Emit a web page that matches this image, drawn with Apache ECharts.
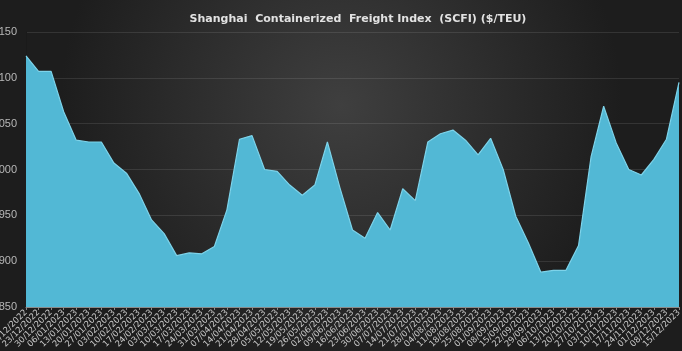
<!DOCTYPE html>
<html>
<head>
<meta charset="utf-8">
<script src="https://cdn.jsdelivr.net/npm/echarts@6/dist/echarts.min.js"></script>
<style>
  html, body { margin: 0; padding: 0; background: #222; }
  #chart { width: 682px; height: 351px; }
</style>
</head>
<body>
<div id="chart"></div>
<script>
// weekly SCFI readings, 16/12/2022 .. 15/12/2023
const dates = [
  '16/12/2022', '23/12/2022', '30/12/2022', '06/01/2023', '13/01/2023', '20/01/2023', '27/01/2023',
  '03/02/2023', '10/02/2023', '17/02/2023', '24/02/2023', '03/03/2023', '10/03/2023', '17/03/2023',
  '24/03/2023', '31/03/2023', '07/04/2023', '14/04/2023', '21/04/2023', '28/04/2023', '05/05/2023',
  '12/05/2023', '19/05/2023', '26/05/2023', '02/06/2023', '09/06/2023', '16/06/2023', '23/06/2023',
  '30/06/2023', '07/07/2023', '14/07/2023', '21/07/2023', '28/07/2023', '04/08/2023', '11/08/2023',
  '18/08/2023', '25/08/2023', '01/09/2023', '08/09/2023', '15/09/2023', '22/09/2023', '29/09/2023',
  '06/10/2023', '13/10/2023', '20/10/2023', '27/10/2023', '03/11/2023', '10/11/2023', '17/11/2023',
  '24/11/2023', '01/12/2023', '08/12/2023', '15/12/2023'
]
const scfi = [
  1124, 1107, 1107, 1063, 1032, 1030, 1030,
  1007, 996, 974, 945, 930, 906, 909,
  908, 916, 956, 1033, 1037, 1000, 998,
  983, 972, 983, 1030, 980, 934, 925,
  953, 934, 979, 966, 1030, 1039, 1043,
  1032, 1016, 1034, 1000, 949, 920, 888,
  890, 890, 917, 1014, 1069, 1029, 1000,
  994, 1011, 1033, 1095
]
const yTicks = { min: 850, max: 1150, step: 50 }

const chart = echarts.init(document.getElementById('chart'))
chart.setOption({
  backgroundColor: {
    type: 'radial',
    x: 0.5,
    y: 0.3,
    r: 0.8,
    colorStops: [
      { offset: 0, color: '#3f3f3f' },
      { offset: 1, color: '#1d1d1d' },
    ],
  },
  title: {
    text: 'Shanghai  Containerized  Freight Index  (SCFI) ($/TEU)',
    left: 353,
    textAlign: 'center',
    top: 9,
    textStyle: {
      color: '#e2e2e2',
      fontSize: 11,
      fontWeight: 'bold',
      fontFamily: 'DejaVu Sans',
    },
  },
  grid: {
    left: 26,
    right: 3,
    top: 32,
    bottom: 44,
    containLabel: false,
    outerBoundsMode: 'none',
  },
  xAxis: {
    type: 'category',
    data: dates,
    boundaryGap: false,
    axisLine: { lineStyle: { color: '#8a8a8a' } },
    axisTick: { show: true, length: 3, lineStyle: { color: '#8a8a8a' } },
    axisLabel: {
      interval: 0,
      rotate: 45,
      color: '#c8c8c8',
      fontSize: 8.5,
      margin: 4,
      fontFamily: 'DejaVu Sans',
    },
  },
  yAxis: {
    type: 'value',
    min: yTicks.min,
    max: yTicks.max,
    interval: yTicks.step,
    axisLine: { show: true, lineStyle: { color: '#1a1a1a' } },
    axisTick: { show: false },
    axisLabel: {
      color: '#b8b8b8',
      fontSize: 11,
      margin: 9,
      fontFamily: 'Liberation Sans',
      formatter: (v) => String(v),
    },
    splitLine: { lineStyle: { color: 'rgba(255,255,255,0.1)' } },
  },
  series: [
    {
      type: 'line',
      data: scfi,
      symbol: 'none',
      lineStyle: { color: '#7dd3ea', width: 1.2 },
      areaStyle: { color: '#52b8d5', opacity: 1 },
      itemStyle: { color: '#52b8d5' },
    },
  ],
})
</script>
</body>
</html>
